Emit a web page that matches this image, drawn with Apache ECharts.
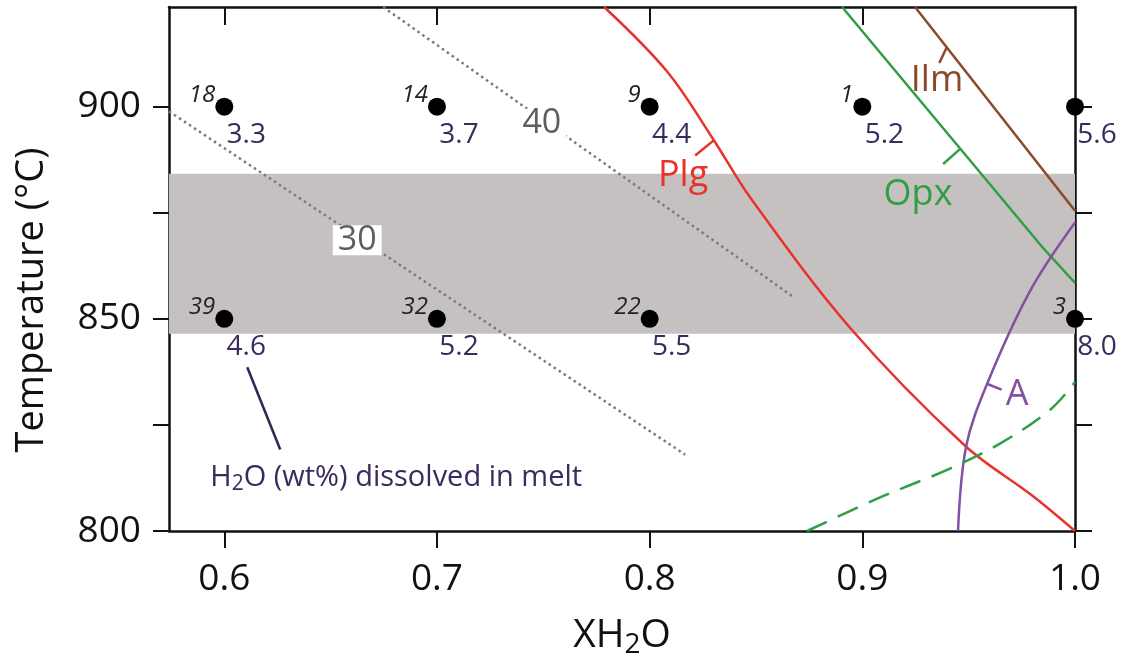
<!DOCTYPE html>
<html>
<head>
<meta charset="utf-8">
<script src="https://cdn.jsdelivr.net/npm/echarts@6/dist/echarts.min.js"></script>
<style>html,body{margin:0;padding:0;background:#fff}#c{width:1128px;height:664px}</style>
</head>
<body>
<div id="c"></div>
<script>
// ---------- data ----------
const xMin = 0.574, xMax = 1.0, yMin = 800, yMax = 923.5;
const xTickValues = [0.6, 0.7, 0.8, 0.9, 1.0];
const xTopTickValues = [0.6, 0.7, 0.8, 0.9];
const yTickValues = [800, 825, 850, 875, 900];
const yLabelValues = [800, 850, 900];

const runX   = [0.6, 0.7, 0.8, 0.9, 1.0, 0.6, 0.7, 0.8, 1.0];
const runT   = [900, 900, 900, 900, 900, 850, 850, 850, 850];
const runId  = ['18', '14', '9', '1', '', '39', '32', '22', '3'];
const runH2O = ['3.3', '3.7', '4.4', '5.2', '5.6', '4.6', '5.2', '5.5', '8.0'];

const bandRange = [846.5, 884.2];

const iso30 = [[0.574, 898.9], [0.8167, 818.0]];
const iso40 = [[0.6747, 923.5], [0.8675, 855.2]];
const isoLabels = [[0.6625, 868.5, '30'], [0.7493, 896.0, '40']];

const plgCurve = [[0.7786, 923.5], [0.8082, 908.3], [0.8298, 892.4], [0.8477, 878.3],
  [0.8942, 847.9], [0.9483, 820.1], [0.9803, 808.2], [1.0, 800]];
const opxCurve = [[0.8905, 923.5], [0.9239, 903.4], [0.9850, 866.7], [1.0, 858.5]];
const ilmCurve = [[0.9248, 923.5], [1.0, 875.5]];
const aCurve = [[1.0, 872.7], [0.9789, 856.6], [0.9586, 834.6], [0.9488, 819.9], [0.9450, 800]];
const opxDashed = [[0.8740, 800], [0.9097, 808.2], [0.9412, 814.7], [0.9647, 820.6], [0.9882, 828.5],
  [1.0, 835.1]];

const plgTick = [[0.8300, 892.0], [0.8214, 888.5]];
const opxTick = [[0.9459, 890.0], [0.9380, 886.5]];
const ilmTick = [[0.9397, 914.0], [0.9362, 910.3]];
const aTick   = [[0.9585, 834.7], [0.9655, 833.3]];

const phaseLabels = [[0.8157, 883.7, 'Plg'], [0.9262, 879.3, 'Opx'], [0.9351, 906.2, 'Ilm'], [0.9728, 832.0, 'A']];

const noteText = [[0.5934, 812.6, 'H2O (wt%) dissolved in melt']];
const noteLeader = [[0.6108, 838.6], [0.6263, 819.2]];

// ---------- styles ----------
const FONT = 'Open Sans';
const C_RED = '#e8322a', C_GREEN = '#2f9e44', C_BROWN = '#8a4a2a', C_PURPLE = '#8450a4';
const C_GRAY = '#7a7a7a', C_TEXTP = '#3a2a5e', C_AX = '#111';
const phaseColor = { Plg: C_RED, Opx: C_GREEN, Ilm: C_BROWN, A: C_PURPLE };

function lineSeries(data, color, extra) {
  return Object.assign({
    type: 'line', data: data, symbol: 'none', silent: true, animation: false,
    lineStyle: { color: color, width: 2.5 }, z: 4
  }, extra || {});
}

const chart = echarts.init(document.getElementById('c'), null, { renderer: 'canvas' });

const axLine = { show: true, onZero: false, lineStyle: { color: C_AX, width: 2.5 } };
const tickStyle = { color: C_AX, width: 2 };
const opaque = { opacity: 1 };

chart.setOption({
  animation: false,
  backgroundColor: '#fff',
  grid: { left: 169, right: 53, top: 7, bottom: 129, containLabel: false },
  xAxis: [
    {
      type: 'value', min: xMin, max: xMax, position: 'bottom',
      axisLine: axLine,
      axisTick: { show: true, inside: false, length: 17, customValues: xTickValues, lineStyle: tickStyle },
      axisLabel: { show: true, customValues: xTickValues, formatter: v => (+v).toFixed(1),
        fontSize: 37, fontFamily: FONT, color: C_AX, margin: 30 },
      splitLine: { show: false },
      name: '{n|XH}{s|2}{n|O}', nameLocation: 'middle', nameGap: 82,
      nameTextStyle: { rich: {
        n: { fontSize: 39, fontFamily: FONT, color: C_AX, lineHeight: 46 },
        s: { fontSize: 28, fontFamily: FONT, color: C_AX, lineHeight: 20, verticalAlign: 'bottom' }
      } }
    },
    {
      type: 'value', min: xMin, max: xMax, position: 'top',
      axisLine: axLine,
      axisTick: { show: true, inside: true, length: 18, customValues: xTopTickValues, lineStyle: tickStyle },
      axisLabel: { show: false },
      splitLine: { show: false }
    }
  ],
  yAxis: [
    {
      type: 'value', min: yMin, max: yMax, position: 'left',
      axisLine: axLine,
      axisTick: { show: true, inside: false, length: 16, customValues: yTickValues, lineStyle: tickStyle },
      axisLabel: { show: true, customValues: yLabelValues, fontSize: 37, fontFamily: FONT, color: C_AX, margin: 28 },
      splitLine: { show: false },
      name: 'Temperature (°C)', nameLocation: 'middle', nameGap: 118, nameRotate: 90,
      nameTextStyle: { fontSize: 38, fontFamily: FONT, color: C_AX, padding: [0, 62, 0, 0] }
    },
    {
      type: 'value', min: yMin, max: yMax, position: 'right',
      axisLine: axLine,
      axisTick: { show: true, inside: false, length: 17, customValues: yTickValues, lineStyle: tickStyle },
      axisLabel: { show: false },
      splitLine: { show: false }
    }
  ],
  series: [
    // shaded band
    {
      type: 'line', data: [], silent: true, z: 1,
      markArea: { silent: true, itemStyle: { color: '#c5c1c0', opacity: 1 },
        data: [[{ xAxis: xMin, yAxis: bandRange[0] }, { xAxis: xMax, yAxis: bandRange[1] }]] }
    },
    // isopleths (dotted)
    lineSeries(iso30, C_GRAY, { lineStyle: { color: C_GRAY, width: 2.5, type: [2.5, 3.5] }, z: 3 }),
    lineSeries(iso40, C_GRAY, { lineStyle: { color: C_GRAY, width: 2.5, type: [2.5, 3.5] }, z: 3 }),
    // phase boundaries
    lineSeries(plgCurve, C_RED, { smooth: 0.35 }),
    lineSeries(opxCurve, C_GREEN),
    lineSeries(ilmCurve, C_BROWN),
    lineSeries(aCurve, C_PURPLE, { smooth: 0.35 }),
    lineSeries(opxDashed, C_GREEN, { smooth: 0.35, lineStyle: { color: C_GREEN, width: 2.5, type: [22, 12] } }),
    lineSeries(plgTick, C_RED),
    lineSeries(opxTick, C_GREEN),
    lineSeries(ilmTick, C_BROWN),
    lineSeries(aTick, C_PURPLE),
    lineSeries(noteLeader, '#2e2550', { lineStyle: { color: '#2e2550', width: 2.5 } }),
    // isopleth labels
    {
      type: 'scatter', symbolSize: 0, silent: true, z: 6, clip: false, itemStyle: opaque,
      data: isoLabels.map(d => ({ value: [d[0], d[1]], name: d[2] })),
      label: { show: true, position: 'inside', formatter: p => p.name, fontSize: 34, fontFamily: FONT,
        color: '#5e5e5e', backgroundColor: '#fff', padding: [1, 5, -1, 5], lineHeight: 30 }
    },
    // phase labels
    {
      type: 'scatter', symbolSize: 0, silent: true, z: 6, clip: false, itemStyle: opaque,
      data: phaseLabels.map(d => ({ value: [d[0], d[1]], name: d[2],
        label: { color: phaseColor[d[2]] } })),
      label: { show: true, position: 'inside', formatter: p => p.name, fontSize: 36, fontFamily: FONT }
    },
    // annotation text
    {
      type: 'scatter', symbolSize: 0, silent: true, z: 6, clip: false, itemStyle: opaque,
      data: noteText.map(d => ({ value: [d[0], d[1]], name: d[2] })),
      label: { show: true, position: 'inside', align: 'left',
        formatter: p => '{n|H}{s|2}{n|' + p.name.slice(2) + '}',
        rich: {
          n: { fontSize: 29, fontFamily: FONT, color: C_TEXTP, lineHeight: 34 },
          s: { fontSize: 21, fontFamily: FONT, color: C_TEXTP, lineHeight: 14, verticalAlign: 'bottom' }
        } }
    },
    // experimental runs
    {
      type: 'scatter', symbol: 'circle', symbolSize: 18, silent: true, z: 8, clip: false,
      itemStyle: { color: '#000', opacity: 1 },
      data: runX.map((x, i) => ({ value: [x, runT[i]], name: runId[i] })),
      label: { show: true, position: 'inside', align: 'right', offset: [-9, -12],
        formatter: p => p.name, fontSize: 24, fontStyle: 'italic', fontFamily: FONT, color: '#222' }
    },
    {
      type: 'scatter', symbolSize: 0, silent: true, z: 8, clip: false, itemStyle: opaque,
      data: runX.map((x, i) => ({ value: [x, runT[i]], name: runH2O[i] })),
      label: { show: true, position: 'inside', offset: [22, 28],
        formatter: p => p.name, fontSize: 28, fontFamily: FONT, color: C_TEXTP }
    }
  ]
});
</script>
</body>
</html>
